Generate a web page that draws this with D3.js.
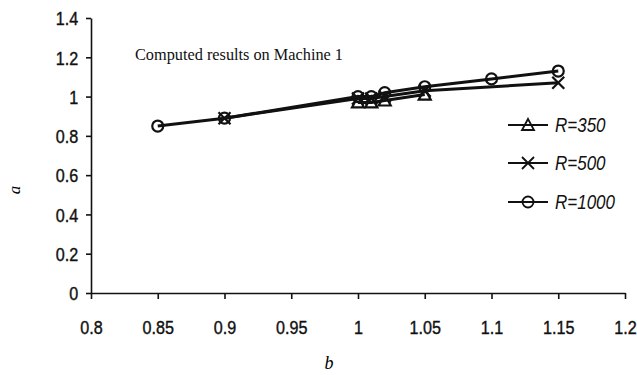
<!DOCTYPE html>
<html>
<head>
<meta charset="utf-8">
<script src="https://cdn.jsdelivr.net/npm/d3@7"></script>
<style>
  body { margin: 0; background: #fff; }
  svg { display: block; }
  .tick text { font-family: "Liberation Sans", Arial, sans-serif; font-size: 19px; }
</style>
</head>
<body>
<svg id="chart" width="637" height="375"></svg>
<script>
// data
var xTicks = [0.8, 0.85, 0.9, 0.95, 1, 1.05, 1.1, 1.15, 1.2];
var yTicks = [0, 0.2, 0.4, 0.6, 0.8, 1, 1.2, 1.4];

var seriesNames = ["R=350", "R=500", "R=1000"];
var symbols = ["triangle", "cross", "circle"];

var b350 = [1, 1.01, 1.02, 1.05];
var a350 = [0.97, 0.97, 0.98, 1.01];

var b500 = [0.9, 1, 1.01, 1.02, 1.05, 1.15];
var a500 = [0.89, 0.99, 0.99, 1.0, 1.03, 1.07];

var b1000 = [0.85, 0.9, 1, 1.01, 1.02, 1.05, 1.1, 1.15];
var a1000 = [0.85, 0.89, 1.0, 1.0, 1.02, 1.05, 1.09, 1.13];

window.onload = function(){
    drawChart();
};

function drawChart(){
    let svg = d3.select("#chart");

    let xScale = d3.scaleLinear().domain([0.8, 1.2]).range([91, 625]);
    let yScale = d3.scaleLinear().domain([0, 1.4]).range([293, 18]);

    // axes
    let xAxis = d3.axisBottom(xScale).tickValues(xTicks)
        .tickFormat(d3.format("")).tickSizeInner(6).tickSizeOuter(0).tickPadding(22);
    let yAxis = d3.axisLeft(yScale).tickValues(yTicks)
        .tickFormat(d3.format("")).tickSizeInner(5).tickSizeOuter(0).tickPadding(8);

    let gx = svg.append("g").attr("transform", "translate(0,293)").call(xAxis);
    let gy = svg.append("g").attr("transform", "translate(91,0)").call(yAxis);
    [gx, gy].forEach(function(g){
        g.selectAll("path, line").attr("stroke", "#111").attr("stroke-width", 1.6);
        g.selectAll("text").attr("fill", "#111").attr("stroke", "#111").attr("stroke-width", 0.4);
    });
    // squeeze the labels a bit, the original font is condensed
    gx.selectAll("text").attr("transform", "scale(0.85,1)");
    gy.selectAll("text").attr("dy", "0.36em").attr("x", -15).attr("transform", "scale(0.85,1)");

    // title
    svg.append("text")
        .attr("x", 135).attr("y", 60)
        .attr("font-family", "Liberation Serif, Times New Roman, serif")
        .attr("font-size", 16.3)
        .attr("fill", "#111")
        .text("Computed results on Machine 1");

    // axis titles
    svg.append("text")
        .attr("transform", "translate(20,190) rotate(-90)")
        .attr("text-anchor", "middle")
        .attr("font-family", "Liberation Serif, serif")
        .attr("font-style", "italic")
        .attr("font-size", 17)
        .text("a");
    svg.append("text")
        .attr("x", 329).attr("y", 369)
        .attr("text-anchor", "middle")
        .attr("font-family", "Liberation Serif, serif")
        .attr("font-style", "italic")
        .attr("font-size", 18)
        .text("b");

    let series = [
        {bs: b350, as: a350},
        {bs: b500, as: a500},
        {bs: b1000, as: a1000}
    ];

    let line = d3.line()
        .x(function(d){ return xScale(d[0]); })
        .y(function(d){ return yScale(d[1]); });

    series.forEach(function(s, k){
        let pts = s.bs.map(function(b, i){ return [b, s.as[i]]; });
        svg.append("path")
            .datum(pts)
            .attr("d", line)
            .attr("fill", "none")
            .attr("stroke", "#111")
            .attr("stroke-width", 3);
        svg.selectAll(".m" + k).data(pts).enter()
            .append("path")
            .attr("class", "m" + k)
            .attr("transform", function(d){ return "translate(" + xScale(d[0]) + "," + yScale(d[1]) + ")"; })
            .attr("d", markerPath(symbols[k]))
            .attr("fill", "none")
            .attr("stroke", "#111")
            .attr("stroke-width", 2.2);
    });

    // legend
    let legY = [125, 163, 202];
    seriesNames.forEach(function(name, k){
        let g = svg.append("g").attr("transform", "translate(508," + legY[k] + ")");
        g.append("line").attr("x1", 0).attr("x2", 40).attr("y1", 0).attr("y2", 0)
            .attr("stroke", "#111").attr("stroke-width", 2);
        g.append("path").attr("transform", "translate(20,0)")
            .attr("d", markerPath(symbols[k]))
            .attr("fill", "none").attr("stroke", "#111").attr("stroke-width", 1.8);
        g.append("text").attr("transform", "translate(47,7) scale(0.85,1)")
            .attr("font-family", "Liberation Sans, Arial, sans-serif")
            .attr("font-style", "italic")
            .attr("font-size", 20)
            .attr("fill", "#111")
            .text(name);
    });
}

function markerPath(type){
    if (type == "triangle") return "M0,-6L6,5L-6,5Z";
    if (type == "cross") return "M-6,-6L6,6M-6,6L6,-6";
    return circlePath(5.5);
}

function circlePath(r){
    let p = d3.path();
    p.arc(0, 0, r, 0, 2 * Math.PI);
    p.closePath();
    return p.toString();
}
</script>
</body>
</html>
